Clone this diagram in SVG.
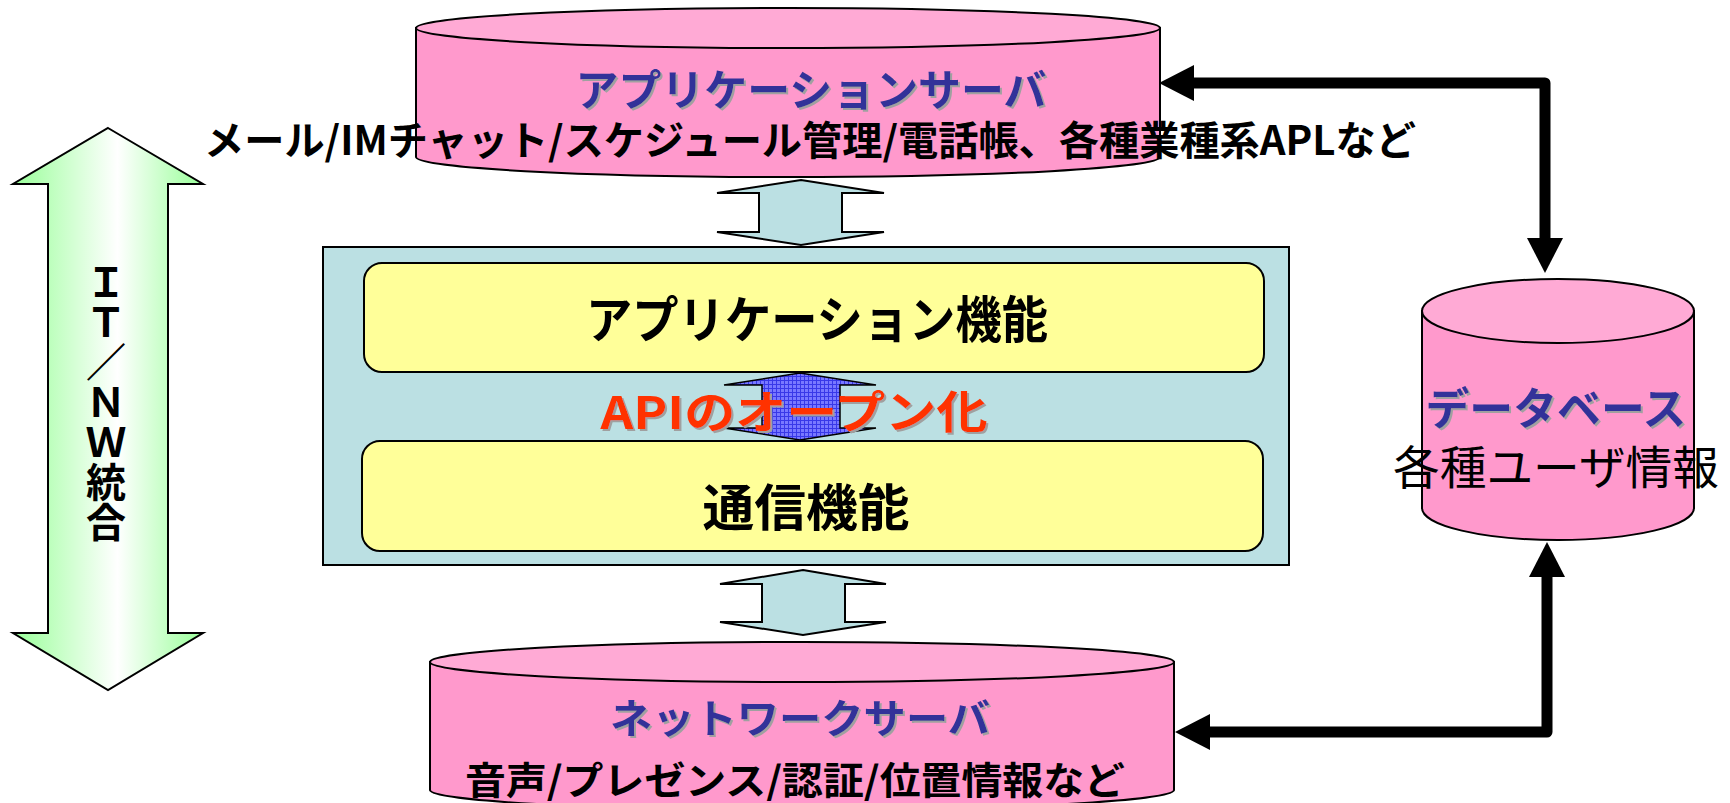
<svg xmlns="http://www.w3.org/2000/svg" width="1730" height="803" viewBox="0 0 1730 803">
<style>
.jp{font-family:"Noto Sans CJK JP","Noto Sans CJK SC",sans-serif}
.b{font-weight:bold}
.title{fill:#333399;font-weight:bold;filter:url(#sh)}
.vert{writing-mode:vertical-rl;font-feature-settings:"vert" 0}
.cylBody{fill:#FF99CC;stroke:#000;stroke-width:2}
.cylTop{fill:#FFAAD5;stroke:#000;stroke-width:2}
.lb{fill:#BBE0E3;stroke:#000;stroke-width:2}
.yel{fill:#FFFF99;stroke:#000;stroke-width:2}
.conn{fill:none;stroke:#000;stroke-width:11;stroke-linejoin:round}
</style>
<defs>
<filter id="sh" x="-5%" y="-20%" width="110%" height="150%">
<feDropShadow dx="2" dy="2" stdDeviation="0.3" flood-color="#A0A0A0" flood-opacity="1"/>
</filter>
<linearGradient id="grn" x1="0" y1="0" x2="1" y2="0">
<stop offset="0" stop-color="#99FF99"/>
<stop offset="0.55" stop-color="#FFFFFF"/>
<stop offset="1" stop-color="#99FF99"/>
</linearGradient>
<pattern id="grid" width="4" height="4" patternUnits="userSpaceOnUse">
<rect width="4" height="4" fill="#7878FF"/>
<path d="M0 0.5H4M0.5 0V4" stroke="#3838E8" stroke-width="1"/>
</pattern>
<marker id="ah" markerUnits="userSpaceOnUse" markerWidth="35" markerHeight="36" viewBox="0 0 35 36" refX="0" refY="18" orient="auto-start-reverse">
<path d="M0 0L35 18L0 36Z" fill="#000"/>
</marker>
</defs>

<g id="it-nw-arrow">
<polygon points="108,128 203,184 168,184 168,633 203,633 108,690 13,633 48,633 48,184 13,184" fill="url(#grn)" stroke="#000" stroke-width="2"/>
<text class="jp b vert" x="106" y="262" font-size="40" fill="#000">ＩＴ／ＮＷ統合</text>
</g>

<g id="connectors">
<polygon points="801,180 884,193 842,193 842,232 884,232 801,245 717,232 759,232 759,193 717,193" class="lb"/>
<polygon points="803,570 886,584 845,584 845,622 886,622 803,635 720,622 762,622 762,584 720,584" class="lb"/>
<path class="conn" d="M1194 83H1545V238" marker-start="url(#ah)" marker-end="url(#ah)"/>
<path class="conn" d="M1210 732H1547V577" marker-start="url(#ah)" marker-end="url(#ah)"/>
</g>

<g id="app-server">
<path class="cylBody" d="M416 28V157A372 20 0 0 0 1160 157V28Z"/>
<ellipse class="cylTop" cx="788" cy="28" rx="372" ry="20"/>
<text class="jp title" x="811" y="106" font-size="43" text-anchor="middle" textLength="471" lengthAdjust="spacingAndGlyphs">アプリケーションサーバ</text>
<text class="jp b" x="810" y="155" font-size="40" text-anchor="middle" textLength="1212" lengthAdjust="spacingAndGlyphs">メール/IMチャット/スケジュール管理/電話帳、各種業種系APLなど</text>
</g>

<g id="platform">
<rect class="lb" x="323" y="247" width="966" height="318"/>
</g>

<g id="app-func">
<rect class="yel" x="364" y="263" width="900" height="109" rx="18"/>
<text class="jp b" x="817" y="338" font-size="50" text-anchor="middle" textLength="462" lengthAdjust="spacingAndGlyphs">アプリケーション機能</text>
</g>

<g id="comm-func">
<rect class="yel" x="362" y="441" width="901" height="110" rx="18"/>
<text class="jp b" x="806" y="526" font-size="50" text-anchor="middle" textLength="207" lengthAdjust="spacingAndGlyphs">通信機能</text>
</g>

<g id="api-open">
<polygon points="800,373 876,385 840,385 840,428 876,428 800,440 724,428 762,428 762,385 724,385" fill="url(#grid)" stroke="#000" stroke-width="1.5"/>
<text class="jp b" x="794" y="429" font-size="45" text-anchor="middle" fill="#FF3300" filter="url(#sh)" textLength="387" lengthAdjust="spacingAndGlyphs">APIのオープン化</text>
</g>

<g id="database">
<path class="cylBody" d="M1422 311V508A136 32 0 0 0 1694 508V311Z"/>
<ellipse class="cylTop" cx="1558" cy="311" rx="136" ry="32"/>
<text class="jp title" x="1556" y="425" font-size="44" text-anchor="middle" textLength="261" lengthAdjust="spacingAndGlyphs">データベース</text>
<text class="jp" x="1556" y="484" font-size="46" text-anchor="middle" textLength="326" lengthAdjust="spacingAndGlyphs">各種ユーザ情報</text>
</g>

<g id="network-server">
<path class="cylBody" d="M430 662V790A372 20 0 0 0 1174 790V662Z"/>
<ellipse class="cylTop" cx="802" cy="662" rx="372" ry="20"/>
<text class="jp title" x="800" y="733" font-size="40" text-anchor="middle" textLength="380" lengthAdjust="spacingAndGlyphs">ネットワークサーバ</text>
<text class="jp b" x="795" y="794" font-size="38" text-anchor="middle" textLength="660" lengthAdjust="spacingAndGlyphs">音声/プレゼンス/認証/位置情報など</text>
</g>
</svg>
